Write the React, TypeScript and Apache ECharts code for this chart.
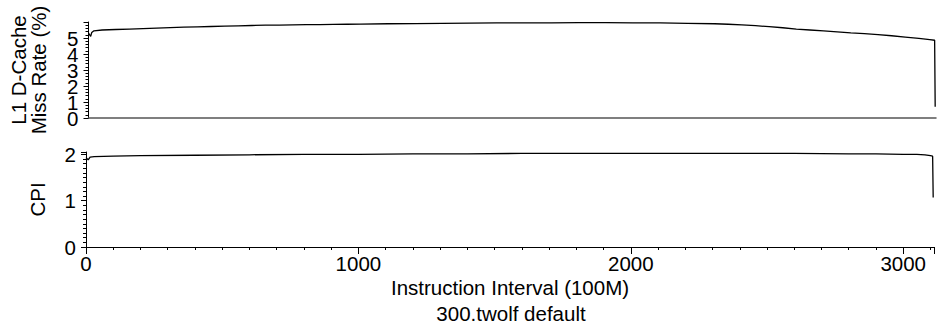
import React, { useEffect, useRef } from "react";
import * as echarts from "echarts";

const missX = [0, 8, 12, 20, 50, 100, 150, 200, 250, 300, 350, 400, 450, 500, 550, 600, 650, 700, 750, 800, 850, 900, 950, 1000, 1100, 1200, 1300, 1400, 1500, 1600, 1700, 1800, 1900, 2000, 2100, 2200, 2300, 2350, 2400, 2450, 2500, 2550, 2600, 2650, 2700, 2750, 2800, 2850, 2900, 2950, 3000, 3050, 3090, 3108, 3110];
const missRate = [5.3, 5.1, 5.35, 5.45, 5.5, 5.53, 5.56, 5.59, 5.62, 5.65, 5.68, 5.7, 5.72, 5.74, 5.76, 5.78, 5.8, 5.81, 5.82, 5.83, 5.84, 5.85, 5.86, 5.87, 5.89, 5.9, 5.92, 5.93, 5.94, 5.95, 5.95, 5.96, 5.96, 5.95, 5.94, 5.92, 5.89, 5.86, 5.82, 5.77, 5.71, 5.64, 5.56, 5.5, 5.44, 5.38, 5.32, 5.27, 5.21, 5.14, 5.06, 4.98, 4.9, 4.86, 0.7];

const cpiX = [0, 8, 15, 30, 100, 200, 400, 600, 800, 1000, 1200, 1400, 1600, 1800, 2000, 2200, 2400, 2600, 2800, 2900, 3000, 3050, 3080, 3100, 3108, 3110];
const cpi = [1.93, 1.88, 1.94, 1.95, 1.96, 1.97, 1.98, 1.99, 2.0, 2.0, 2.01, 2.01, 2.02, 2.02, 2.02, 2.02, 2.02, 2.02, 2.01, 2.01, 2.0, 2.0, 1.99, 1.97, 1.96, 1.07];

const xTickLabels = [0, 1000, 2000, 3000];
const missTickLabels = [0, 1, 2, 3, 4, 5];
const cpiTickLabels = [0, 1, 2];

const FONT = '"Liberation Sans", Arial, sans-serif';
const FS = 20.5;

const pick = (list: number[]) => (v: number) => {
  const r = Math.round(v);
  return Math.abs(v - r) < 1e-6 && list.includes(r) ? String(r) : "";
};

export default function App() {
  const ref = useRef<HTMLDivElement>(null);
  useEffect(() => {
    if (!ref.current) return;
    const chart = echarts.init(ref.current, null, { renderer: "svg" });
    const line = { show: true, onZero: false, lineStyle: { color: "#000", width: 1 } };
    chart.setOption({
      animation: false,
      backgroundColor: "#fff",
      grid: [
        { left: 86, top: 22, width: 850, height: 96 },
        { left: 86, top: 152, width: 850, height: 95 },
      ],
      xAxis: [
        {
          gridIndex: 0,
          type: "value",
          min: 0,
          max: 3113,
          interval: 1000,
          axisLine: { show: true, onZero: false, lineStyle: { color: "#555", width: 1.5 } },
          splitLine: { show: false },
          axisTick: { show: false },
          axisLabel: { show: false },
        },
        {
          gridIndex: 1,
          type: "value",
          min: 0,
          max: 3113,
          interval: 1000,
          axisLine: line,
          splitLine: { show: false },
          axisTick: { show: true, length: 7, lineStyle: { color: "#000" } },
          minorTick: { show: true, splitNumber: 10, length: 3, lineStyle: { color: "#000" } },
          axisLabel: {
            margin: 6,
            color: "#000",
            fontSize: FS,
            fontFamily: FONT,
            hideOverlap: false,
            formatter: pick(xTickLabels),
          },
          name: "Instruction Interval (100M)",
          nameLocation: "middle",
          nameGap: 30,
          nameTextStyle: { color: "#000", fontSize: FS, fontFamily: FONT },
        },
      ],
      yAxis: [
        {
          gridIndex: 0,
          type: "value",
          position: "left",
          min: 0,
          max: 6,
          interval: 1,
          axisLine: line,
          splitLine: { show: false },
          axisTick: { show: true, length: 5, lineStyle: { color: "#000" } },
          minorTick: { show: true, splitNumber: 5, length: 3, lineStyle: { color: "#000" } },
          axisLabel: { show: false },
          name: "L1 D-Cache\nMiss Rate (%)",
          nameLocation: "middle",
          nameRotate: 90,
          nameGap: 40,
          nameTextStyle: { color: "#000", fontSize: FS, fontFamily: FONT, lineHeight: 20 },
        },
        {
          gridIndex: 1,
          type: "value",
          position: "left",
          min: 0,
          max: 2.05,
          interval: 1,
          axisLine: line,
          splitLine: { show: false },
          axisTick: { show: true, length: 5, lineStyle: { color: "#000" } },
          minorTick: { show: true, splitNumber: 10, length: 3, lineStyle: { color: "#000" } },
          axisLabel: {
            margin: 10,
            hideOverlap: false,
            color: "#000",
            fontSize: FS,
            fontFamily: FONT,
            formatter: pick(cpiTickLabels),
          },
          name: "CPI",
          nameLocation: "middle",
          nameRotate: 90,
          nameGap: 38,
          nameTextStyle: { color: "#000", fontSize: FS, fontFamily: FONT },
        },
      ],
      series: [
        {
          type: "line",
          xAxisIndex: 0,
          yAxisIndex: 0,
          data: missX.map((x, i) => [x, missRate[i]]),
          showSymbol: false,
          lineStyle: { color: "#000", width: 1.3 },
        },
        {
          type: "line",
          xAxisIndex: 1,
          yAxisIndex: 1,
          data: cpiX.map((x, i) => [x, cpi[i]]),
          showSymbol: false,
          lineStyle: { color: "#000", width: 1.3 },
        },
      ],
    });
    // Top-panel tick labels placed through the axis scale (ECharts hides one of the crowded labels otherwise)
    const axisX = chart.convertToPixel({ xAxisIndex: 0 }, 0) as number;
    const labelTexts = missTickLabels.map((v) => ({
      type: "text",
      x: axisX - 10,
      y: chart.convertToPixel({ yAxisIndex: 0 }, v) as number,
      style: {
        text: String(v),
        fill: "#000",
        font: `${FS}px ${FONT}`,
        align: "right",
        verticalAlign: "middle",
      },
    }));
    chart.setOption({
      graphic: [
        ...labelTexts,
        {
          type: "text",
          x: 511,
          y: 313,
          style: {
            text: "300.twolf default",
            fill: "#000",
            font: `${FS}px ${FONT}`,
            align: "center",
            verticalAlign: "middle",
          },
        },
      ],
    });
    return () => chart.dispose();
  }, []);
  return (
    <div
      ref={ref}
      style={{ position: "fixed", left: 0, top: 0, width: 937, height: 329, background: "#fff" }}
    />
  );
}
